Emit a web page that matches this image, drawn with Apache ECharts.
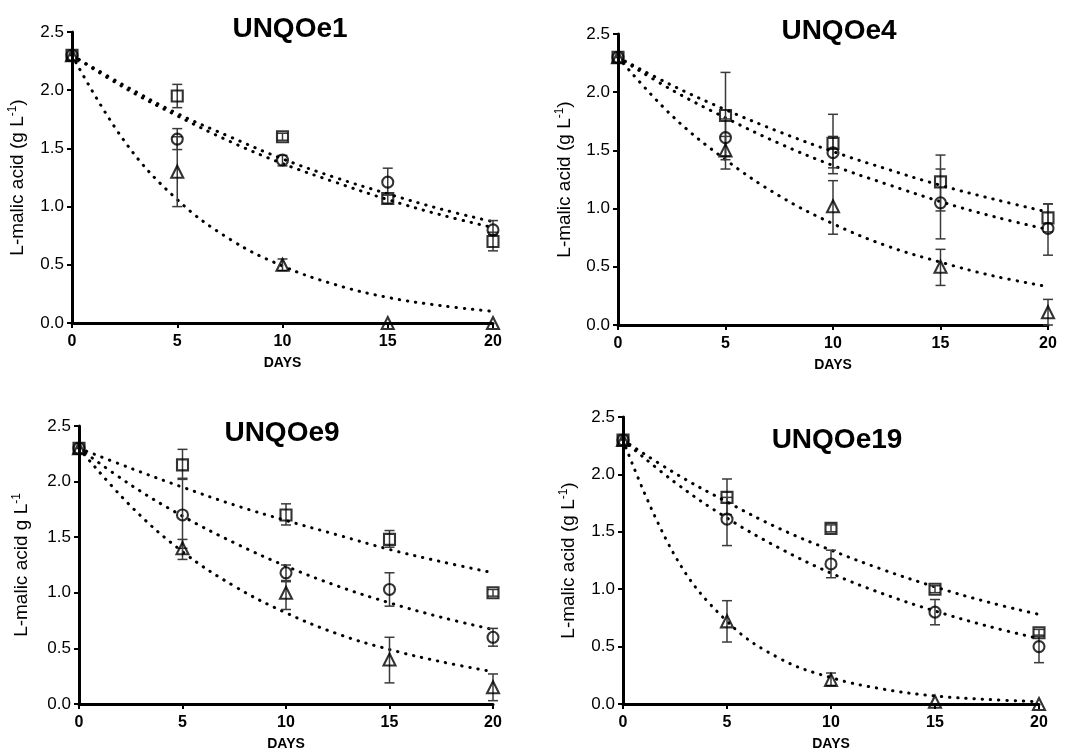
<!DOCTYPE html>
<html><head><meta charset="utf-8">
<script src="https://cdn.jsdelivr.net/npm/echarts@6/dist/echarts.min.js"></script>
<style>html,body{margin:0;padding:0;background:#fff}#c{width:1067px;height:752px}</style>
</head><body><div id="c"></div>
<script>
// ---------- DATA ----------
const days = [0, 5, 10, 15, 20];
const fitDays = [0, 2.5, 5, 7.5, 10, 12.5, 15, 17.5, 20];
const xTicks = [0, 5, 10, 15, 20];
const yTicks = [0.0, 0.5, 1.0, 1.5, 2.0, 2.5];
const panelTitles = ['UNQOe1', 'UNQOe4', 'UNQOe9', 'UNQOe19'];

// UNQOe1
const e1Sq = [2.30, 1.95, 1.60, 1.07, 0.70];
const e1SqErr = [null, [1.85, 2.05], [1.57, 1.63], [1.03, 1.10], [0.62, 0.78]];
const e1Ci = [2.30, 1.58, 1.40, 1.21, 0.80];
const e1CiErr = [null, [1.49, 1.67], [1.35, 1.44], [1.10, 1.33], [0.76, 0.88]];
const e1Tr = [2.30, 1.30, 0.50, 0.00, 0.00];
const e1TrErr = [null, [1.00, 1.60], [0.45, 0.55], null, null];
const e1SqFit = [2.30, 2.04, 1.80, 1.60, 1.41, 1.25, 1.11, 0.98, 0.87];
const e1CiFit = [2.30, 2.02, 1.78, 1.56, 1.37, 1.21, 1.06, 0.93, 0.82];
const e1TrFit = [2.30, 1.56, 1.06, 0.72, 0.49, 0.33, 0.22, 0.15, 0.10];

// UNQOe4
const e4Sq = [2.30, 1.80, 1.56, 1.23, 0.92];
const e4SqErr = [null, [1.42, 2.17], [1.35, 1.81], [0.98, 1.46], [0.80, 1.04]];
const e4Ci = [2.30, 1.61, 1.48, 1.05, 0.83];
const e4CiErr = [null, [1.45, 1.77], [1.30, 1.62], [0.74, 1.34], [0.60, 1.04]];
const e4Tr = [2.30, 1.50, 1.02, 0.50, 0.11];
const e4TrErr = [null, [1.34, 1.62], [0.78, 1.24], [0.34, 0.65], [0.00, 0.22]];
const e4SqFit = [2.30, 2.06, 1.85, 1.66, 1.49, 1.34, 1.20, 1.08, 0.97];
const e4CiFit = [2.30, 2.02, 1.78, 1.56, 1.37, 1.21, 1.06, 0.93, 0.82];
const e4TrFit = [2.30, 1.80, 1.42, 1.11, 0.87, 0.68, 0.54, 0.42, 0.33];

// UNQOe9
const e9Sq = [2.30, 2.15, 1.70, 1.48, 1.00];
const e9SqErr = [null, [2.02, 2.29], [1.61, 1.80], [1.41, 1.56], [0.97, 1.03]];
const e9Ci = [2.30, 1.70, 1.18, 1.03, 0.60];
const e9CiErr = [null, [1.40, 2.03], [1.11, 1.25], [0.88, 1.18], [0.52, 0.68]];
const e9Tr = [2.30, 1.40, 1.00, 0.40, 0.15];
const e9TrErr = [null, [1.30, 1.48], [0.85, 1.10], [0.19, 0.60], [0.03, 0.27]];
const e9SqFit = [2.30, 2.12, 1.95, 1.79, 1.65, 1.52, 1.39, 1.28, 1.18];
const e9CiFit = [2.30, 1.97, 1.69, 1.45, 1.24, 1.06, 0.91, 0.78, 0.67];
const e9TrFit = [2.30, 1.78, 1.37, 1.06, 0.82, 0.63, 0.49, 0.38, 0.29];

// UNQOe19
const e19Sq = [2.30, 1.80, 1.53, 1.00, 0.62];
const e19SqErr = [null, [1.65, 1.96], [1.50, 1.56], [0.97, 1.03], [0.59, 0.65]];
const e19Ci = [2.30, 1.61, 1.22, 0.80, 0.50];
const e19CiErr = [null, [1.38, 1.80], [1.10, 1.34], [0.69, 0.91], [0.36, 0.60]];
const e19Tr = [2.30, 0.72, 0.21, 0.02, 0.00];
const e19TrErr = [null, [0.54, 0.90], [0.16, 0.27], null, null];
const e19SqFit = [2.30, 2.01, 1.76, 1.53, 1.34, 1.17, 1.02, 0.89, 0.78];
const e19CiFit = [2.30, 1.93, 1.62, 1.36, 1.14, 0.96, 0.81, 0.68, 0.57];
const e19TrFit = [2.30, 1.29, 0.72, 0.40, 0.23, 0.13, 0.07, 0.04, 0.02];

const yNameParen = '{n|L-malic acid (g L}{s|-1}{n|)}';
const yNamePlain = '{n|L-malic acid g L}{s|-1}';

// ---------- LAYOUT ----------
const FONT = '"Liberation Sans", Arial, Helvetica, sans-serif';
const grids = [
  {left: 72, top: 32, width: 421, height: 291},
  {left: 618, top: 34, width: 430, height: 291},
  {left: 79, top: 426, width: 414, height: 279},
  {left: 623, top: 417, width: 416, height: 290}
];
const titlePos = [[290, 29], [839, 31], [282, 433], [837, 440]];
const yNameGap = [43, 42, 46, 43];

const panels = [
  {sq: e1Sq, sqE: e1SqErr, ci: e1Ci, ciE: e1CiErr, tr: e1Tr, trE: e1TrErr, f: [e1SqFit, e1CiFit, e1TrFit], yName: yNameParen},
  {sq: e4Sq, sqE: e4SqErr, ci: e4Ci, ciE: e4CiErr, tr: e4Tr, trE: e4TrErr, f: [e4SqFit, e4CiFit, e4TrFit], yName: yNameParen},
  {sq: e9Sq, sqE: e9SqErr, ci: e9Ci, ciE: e9CiErr, tr: e9Tr, trE: e9TrErr, f: [e9SqFit, e9CiFit, e9TrFit], yName: yNamePlain},
  {sq: e19Sq, sqE: e19SqErr, ci: e19Ci, ciE: e19CiErr, tr: e19Tr, trE: e19TrErr, f: [e19SqFit, e19CiFit, e19TrFit], yName: yNameParen}
];

function errRender(params, api) {
  const x = api.value(0), lo = api.value(1), hi = api.value(2);
  const a = api.coord([x, lo]), b = api.coord([x, hi]);
  const w = 5;
  const style = {stroke: '#3a3a3a', lineWidth: 1.5, fill: null};
  return {type: 'group', children: [
    {type: 'line', shape: {x1: a[0], y1: a[1], x2: b[0], y2: b[1]}, style: style},
    {type: 'line', shape: {x1: a[0] - w, y1: a[1], x2: a[0] + w, y2: a[1]}, style: style},
    {type: 'line', shape: {x1: b[0] - w, y1: b[1], x2: b[0] + w, y2: b[1]}, style: style}
  ]};
}

const option = {
  animation: false,
  backgroundColor: '#fff',
  grid: [], xAxis: [], yAxis: [], series: [], graphic: []
};

panels.forEach((p, i) => {
  option.grid.push(Object.assign({containLabel: false}, grids[i]));
  option.xAxis.push({
    type: 'value', gridIndex: i, min: xTicks[0], max: xTicks[xTicks.length - 1], interval: 5,
    axisLine: {show: true, onZero: false, lineStyle: {color: '#000', width: 3}},
    axisTick: {show: true, length: 5, lineStyle: {color: '#000', width: 2}},
    axisLabel: {color: '#000', fontSize: 16, fontWeight: 'bold', fontFamily: FONT, margin: 11},
    splitLine: {show: false},
    name: 'DAYS', nameLocation: 'middle', nameGap: 33,
    nameTextStyle: {color: '#000', fontSize: 14, fontWeight: 'bold', fontFamily: FONT}
  });
  option.yAxis.push({
    type: 'value', gridIndex: i, min: yTicks[0], max: yTicks[yTicks.length - 1], interval: 0.5,
    axisLine: {show: true, onZero: false, lineStyle: {color: '#000', width: 3}},
    axisTick: {show: true, length: 5, lineStyle: {color: '#000', width: 2}},
    axisLabel: {color: '#000', fontSize: 17, fontFamily: FONT, margin: 8, formatter: v => v.toFixed(1)},
    splitLine: {show: false},
    name: p.yName, nameLocation: 'middle', nameGap: yNameGap[i], nameRotate: 90,
    nameTextStyle: {
      rich: {
        n: {fontSize: 19, fontFamily: FONT, color: '#000', lineHeight: 22},
        s: {fontSize: 12, fontFamily: FONT, color: '#000', lineHeight: 12, verticalAlign: 'top'}
      }
    }
  });
  // fitted curves
  p.f.forEach(fit => {
    option.series.push({
      type: 'line', xAxisIndex: i, yAxisIndex: i, smooth: 0.4, symbol: 'none', z: 2,
      data: fitDays.map((d, k) => [d, fit[k]]),
      lineStyle: {color: '#000', width: 3, type: [0.4, 7.8], cap: 'round'}
    });
  });
  // error bars
  [p.sqE, p.ciE, p.trE].forEach(errs => {
    const data = [];
    errs.forEach((e, k) => { if (e) data.push([days[k], e[0], e[1]]); });
    option.series.push({
      type: 'custom', xAxisIndex: i, yAxisIndex: i, z: 3, renderItem: errRender,
      encode: {x: 0, y: [1, 2]}, data: data, clip: false
    });
  });
  // markers
  const sym = [['rect', p.sq, 11], ['circle', p.ci, 11], ['triangle', p.tr, 12]];
  sym.forEach(s => {
    option.series.push({
      type: 'scatter', xAxisIndex: i, yAxisIndex: i, z: 4, symbol: s[0], symbolSize: s[2],
      data: days.map((d, k) => [d, s[1][k]]), clip: false,
      itemStyle: {color: 'rgba(255,255,255,0)', borderColor: '#000', borderWidth: 2.1}
    });
  });
  option.graphic.push({
    type: 'text', x: titlePos[i][0], y: titlePos[i][1], z: 10,
    style: {text: panelTitles[i], font: 'bold 28px ' + FONT, fill: '#000', textAlign: 'center', textVerticalAlign: 'middle'}
  });
});

const chart = echarts.init(document.getElementById('c'), null, {renderer: 'canvas'});
chart.setOption(option);
</script>
</body></html>
